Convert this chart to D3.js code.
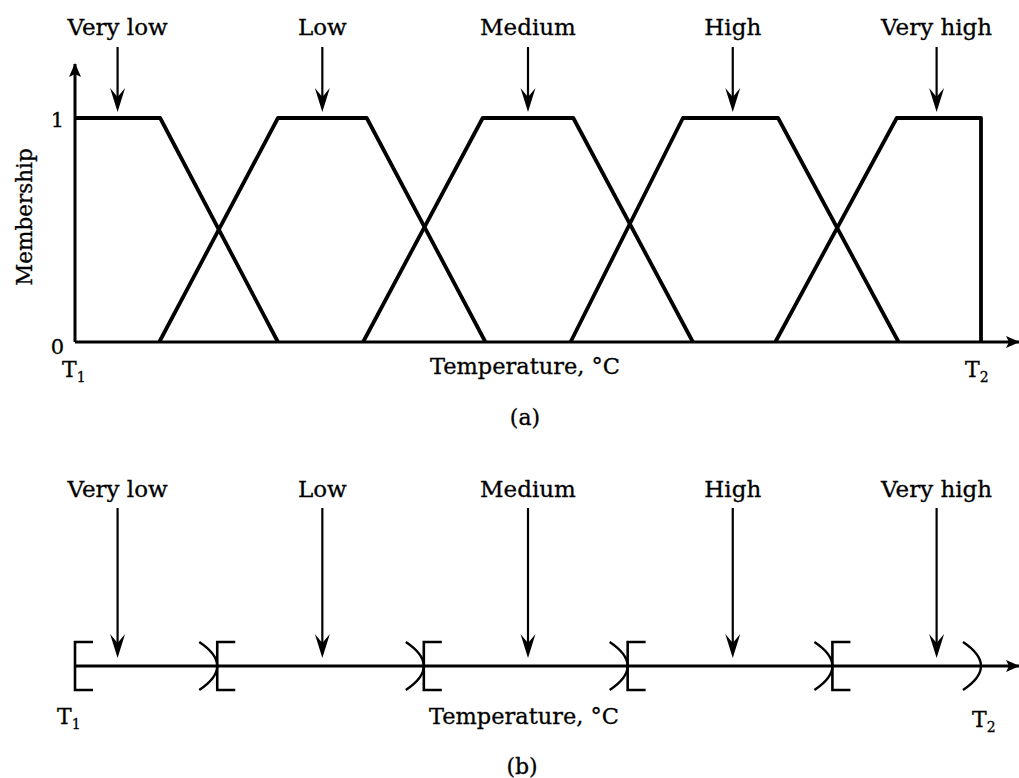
<!DOCTYPE html>
<html>
  <head>
    <meta charset="UTF-8">
    <script src="https://cdnjs.cloudflare.com/ajax/libs/d3/7.8.5/d3.min.js"></script>
    <style>
      body { margin: 0; background: #fff; }
      svg { display: block; font-family: 'DejaVu Serif', serif; }
      text { fill: #000; stroke: #000; stroke-width: 0.3px; }
    </style>
  </head>
  <body>
    <svg id="chart"></svg>
    <script>
      // fuzzy sets, temperature in % of the T1..T2 span
      const setNames = ['Very low', 'Low', 'Medium', 'High', 'Very high']
      const footLeft = [null, 9.3, 31.8, 54.7, 77.3]
      const shoulderLeft = [0, 22.4, 45, 67.1, 90.7]
      const shoulderRight = [9.4, 32.2, 55, 77.6, 100]
      const footRight = [22.4, 45.3, 68.2, 90.9, null]
      const arrowAt = [4.7, 27.3, 50, 72.6, 95.1]
      // crisp intervals for (b)
      const crispEdges = [0, 15.7, 38.5, 61, 83.6, 100]
      const membershipTicks = [0, 1]
      const tempEnds = [0, 100]

      const width = 1019
      const height = 778

      const svg = d3.select('#chart')
        .attr('width', width)
        .attr('height', height)

      const x = d3.scaleLinear().domain([0, 100]).range([75, 981])
      const y = d3.scaleLinear().domain([0, 1]).range([342, 118])
      const yB = 666 // baseline of panel (b)

      const defs = svg.append('defs')
      defs.append('marker')
        .attr('id', 'axhead')
        .attr('markerUnits', 'userSpaceOnUse')
        .attr('markerWidth', 14).attr('markerHeight', 12)
        .attr('refX', 13).attr('refY', 6)
        .attr('orient', 'auto')
        .append('path')
        .attr('d', 'M0,0 L14,6 L0,12 L3,6 Z')
        .attr('fill', '#000')

      function labelArrow(g, cx, y0, tip) {
        g.append('line')
          .attr('x1', cx).attr('x2', cx)
          .attr('y1', y0).attr('y2', tip - 12)
          .attr('stroke', '#000').attr('stroke-width', 2.2)
        g.append('path')
          .attr('d', `M${cx},${tip} L${cx - 7.5},${tip - 24} L${cx},${tip - 15} L${cx + 7.5},${tip - 24} Z`)
          .attr('fill', '#000')
      }

      function tLabel(g, px, py, sub) {
        const t = g.append('text')
          .attr('x', px).attr('y', py)
          .attr('font-size', 22)
        t.append('tspan').text('T')
        t.append('tspan').attr('dy', 5).attr('font-size', 14).text(sub)
      }

      // ---------- panel (a) ----------
      const ga = svg.append('g')

      // axes
      ga.append('line')
        .attr('x1', x(0)).attr('x2', x(0))
        .attr('y1', y(0)).attr('y2', 64)
        .attr('stroke', '#000').attr('stroke-width', 3)
        .attr('marker-end', 'url(#axhead)')
      ga.append('line')
        .attr('x1', x(0)).attr('x2', 1019)
        .attr('y1', y(0)).attr('y2', y(0))
        .attr('stroke', '#000').attr('stroke-width', 3)
        .attr('marker-end', 'url(#axhead)')

      const yAxis = ga.append('g')
        .attr('transform', `translate(${x(0) - 10},0)`)
        .call(d3.axisLeft(y).tickValues(membershipTicks).tickSize(0).tickPadding(1).tickFormat(d3.format('d')))
      yAxis.select('.domain').remove()
      yAxis.selectAll('text')
        .attr('font-family', 'DejaVu Serif')
        .attr('font-size', 21)
        .attr('fill', '#000')
        .attr('dy', d => d === 0 ? '0.55em' : '0.4em')

      ga.append('text')
        .attr('transform', `translate(32,${(y(0) + y(1)) / 2 - 13}) rotate(-90)`)
        .attr('text-anchor', 'middle')
        .attr('font-size', 21.5)
        .text('Membership')

      // membership trapezoids
      const line = d3.line().x(d => x(d[0])).y(d => y(d[1]))
      const shapes = setNames.map((n, i) => {
        const pts = []
        if (footLeft[i] !== null) pts.push([footLeft[i], 0])
        pts.push([shoulderLeft[i], 1])
        pts.push([shoulderRight[i], 1])
        pts.push([footRight[i] !== null ? footRight[i] : shoulderRight[i], 0])
        return pts
      })
      ga.selectAll('path.set')
        .data(shapes)
        .enter().append('path')
        .attr('class', 'set')
        .attr('d', line)
        .attr('fill', 'none')
        .attr('stroke', '#000')
        .attr('stroke-width', 3.8)
        .attr('stroke-linejoin', 'round')

      setNames.forEach((n, i) => {
        ga.append('text')
          .attr('x', x(arrowAt[i])).attr('y', 35)
          .attr('text-anchor', 'middle')
          .attr('font-size', 23)
          .text(n)
        labelArrow(ga, x(arrowAt[i]), 47, 112)
      })

      tLabel(ga, x(tempEnds[0]) - 13, 377, '1')
      tLabel(ga, x(tempEnds[1]) - 16, 377, '2')

      ga.append('text')
        .attr('x', 525).attr('y', 374)
        .attr('text-anchor', 'middle')
        .attr('font-size', 22.5)
        .text('Temperature, \u00B0C')
      ga.append('text')
        .attr('x', 525).attr('y', 425)
        .attr('text-anchor', 'middle')
        .attr('font-size', 22)
        .text('(a)')

      // ---------- panel (b) ----------
      const gb = svg.append('g')

      gb.append('line')
        .attr('x1', x(0)).attr('x2', 1019)
        .attr('y1', yB).attr('y2', yB)
        .attr('stroke', '#000').attr('stroke-width', 3)
        .attr('marker-end', 'url(#axhead)')

      const h = 24, arm = 18
      crispEdges.forEach((e, i) => {
        const bx = x(e)
        if (i > 0) {
          // closing paren of the interval on the left
          gb.append('path')
            .attr('d', `M${bx - arm},${yB - h} Q${bx + arm},${yB} ${bx - arm},${yB + h}`)
            .attr('fill', 'none').attr('stroke', '#000').attr('stroke-width', 2.4)
        }
        if (i < crispEdges.length - 1) {
          gb.append('path')
            .attr('d', `M${bx + arm},${yB - h} L${bx},${yB - h} L${bx},${yB + h} L${bx + arm},${yB + h}`)
            .attr('fill', 'none').attr('stroke', '#000').attr('stroke-width', 2.6)
        }
      })

      setNames.forEach((n, i) => {
        gb.append('text')
          .attr('x', x(arrowAt[i])).attr('y', 497)
          .attr('text-anchor', 'middle')
          .attr('font-size', 23)
          .text(n)
        labelArrow(gb, x(arrowAt[i]), 508, 658)
      })

      tLabel(gb, x(tempEnds[0]) - 18, 724, '1')
      tLabel(gb, x(tempEnds[1]) - 9, 727, '2')

      gb.append('text')
        .attr('x', 524).attr('y', 724)
        .attr('text-anchor', 'middle')
        .attr('font-size', 22.5)
        .text('Temperature, \u00B0C')
      gb.append('text')
        .attr('x', 522).attr('y', 774)
        .attr('text-anchor', 'middle')
        .attr('font-size', 22)
        .text('(b)')
    </script>
  </body>
</html>
